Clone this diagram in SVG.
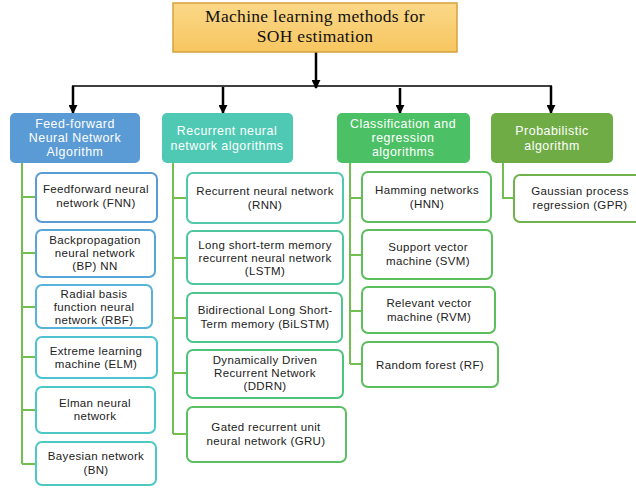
<svg xmlns="http://www.w3.org/2000/svg" width="636" height="488" viewBox="0 0 636 488">
<defs>
<linearGradient id="gOr" x1="0" y1="0" x2="0" y2="1">
<stop offset="0" stop-color="#FBD888"/>
<stop offset="1" stop-color="#F7C660"/>
</linearGradient>
<marker id="ah" viewBox="0 0 10 10" refX="9" refY="5" markerWidth="3.6" markerHeight="3.6" orient="auto" markerUnits="strokeWidth">
<path d="M0,0 L10,5 L0,10 z" fill="#000"/>
</marker>
</defs>
<style>
.title{font-family:"Liberation Serif","Times New Roman",serif;font-size:17.5px;letter-spacing:0.3px;fill:#111;text-anchor:middle}
.cat{font-family:"Liberation Sans",Arial,sans-serif;font-size:12.4px;letter-spacing:0.5px;fill:#fff;text-anchor:middle}
.item{font-family:"Liberation Sans",Arial,sans-serif;font-size:11.5px;letter-spacing:0.35px;fill:#222;text-anchor:middle}
.box{fill:#fff;stroke-width:2}
.arr{stroke:#000;stroke-width:2.5;fill:none}
.tree{stroke:#72BE4E;stroke-width:2;fill:none}
</style>
<g id="connectors">
<line class="arr" x1="316" y1="52" x2="316" y2="88" marker-end="url(#ah)"/>
<line x1="72" y1="86" x2="552" y2="86" stroke="#000" stroke-width="1.6"/>
<line class="arr" x1="73" y1="86" x2="73" y2="113" marker-end="url(#ah)"/>
<line class="arr" x1="223" y1="87" x2="223" y2="113" marker-end="url(#ah)"/>
<line class="arr" x1="400" y1="88" x2="400" y2="113" marker-end="url(#ah)"/>
<path class="arr" d="M551 86 V113" marker-end="url(#ah)"/>
<path class="tree" d="M22 163 V464 M22 197 H36 M22 253 H36 M22 307 H36 M22 357 H36 M22 410 H36 M22 464 H36"/>
<path class="tree" d="M173 163 V434 M173 198 H187 M173 258 H187 M173 318 H187 M173 373 H187 M173 434 H187"/>
<path class="tree" d="M350 163 V364 M350 198 H362 M350 255 H362 M350 311 H362 M350 364 H362"/>
<path class="tree" d="M503 163 V198 H514"/>
</g>
<g id="root">
<rect x="173" y="3" width="284" height="49" fill="url(#gOr)" stroke="#D9A13E" stroke-width="1.5"/>
<text class="title" x="315" y="22">Machine learning methods for</text>
<text class="title" x="315" y="42">SOH estimation</text>
</g>
<g id="cat-ffnn">
<rect x="10" y="113" width="130" height="50" rx="5" fill="#5B9BD5"/>
<text class="cat" x="75" y="128">Feed-forward</text>
<text class="cat" x="75" y="142">Neural Network</text>
<text class="cat" x="75" y="156">Algorithm</text>
</g>
<g id="cat-rnn">
<rect x="162" y="113" width="131" height="50" rx="5" fill="#4FC9B4"/>
<text class="cat" x="227" y="135">Recurrent neural</text>
<text class="cat" x="227" y="150">network algorithms</text>
</g>
<g id="cat-cls">
<rect x="337" y="113" width="133" height="50" rx="5" fill="#4CC065"/>
<text class="cat" x="403" y="128">Classification and</text>
<text class="cat" x="403" y="142">regression</text>
<text class="cat" x="403" y="156">algorithms</text>
</g>
<g id="cat-prob">
<rect x="491" y="113" width="122" height="50" rx="5" fill="#6FAC46"/>
<text class="cat" x="552" y="135">Probabilistic</text>
<text class="cat" x="552" y="150">algorithm</text>
</g>
<g id="fnn">
<rect class="box" x="36" y="173" width="121" height="49" rx="6" stroke="#5B9BD5"/>
<text class="item" x="96" y="193">Feedforward neural</text>
<text class="item" x="96" y="207">network (FNN)</text>
</g>
<g id="bp">
<rect class="box" x="36" y="230" width="119" height="47" rx="6" stroke="#58A6D7"/>
<text class="item" x="95" y="244">Backpropagation</text>
<text class="item" x="95" y="257">neural network</text>
<text class="item" x="95" y="270">(BP) NN</text>
</g>
<g id="rbf">
<rect class="box" x="36" y="285" width="116" height="43" rx="6" stroke="#55B4D8"/>
<text class="item" x="94" y="298">Radial basis</text>
<text class="item" x="94" y="311">function neural</text>
<text class="item" x="94" y="324">network (RBF)</text>
</g>
<g id="elm">
<rect class="box" x="36" y="337" width="121" height="41" rx="6" stroke="#4EC2D2"/>
<text class="item" x="96" y="355">Extreme learning</text>
<text class="item" x="96" y="368">machine (ELM)</text>
</g>
<g id="elman">
<rect class="box" x="36" y="387" width="119" height="46" rx="6" stroke="#4DC8CA"/>
<text class="item" x="95" y="407">Elman neural</text>
<text class="item" x="95" y="420">network</text>
</g>
<g id="bn">
<rect class="box" x="36" y="442" width="120" height="43" rx="6" stroke="#4DC8C3"/>
<text class="item" x="96" y="460">Bayesian network</text>
<text class="item" x="96" y="474">(BN)</text>
</g>
<g id="rnn">
<rect class="box" x="187" y="173" width="156" height="50" rx="6" stroke="#50C9AB"/>
<text class="item" x="265" y="195">Recurrent neural network</text>
<text class="item" x="265" y="209">(RNN)</text>
</g>
<g id="lstm">
<rect class="box" x="187" y="231" width="156" height="53" rx="6" stroke="#4FC79C"/>
<text class="item" x="265" y="249">Long short-term memory</text>
<text class="item" x="265" y="262">recurrent neural network</text>
<text class="item" x="265" y="275">(LSTM)</text>
</g>
<g id="bilstm">
<rect class="box" x="187" y="293" width="155" height="49" rx="6" stroke="#4EC58C"/>
<text class="item" x="265" y="314">Bidirectional Long Short-</text>
<text class="item" x="265" y="328">Term memory (BiLSTM)</text>
</g>
<g id="ddrn">
<rect class="box" x="187" y="350" width="156" height="48" rx="6" stroke="#4EC37C"/>
<text class="item" x="265" y="364">Dynamically Driven</text>
<text class="item" x="265" y="377">Recurrent Network</text>
<text class="item" x="265" y="390">(DDRN)</text>
</g>
<g id="gru">
<rect class="box" x="187" y="407" width="159" height="55" rx="6" stroke="#5CBF62"/>
<text class="item" x="266" y="431">Gated recurrent unit</text>
<text class="item" x="266" y="445">neural network (GRU)</text>
</g>
<g id="hnn">
<rect class="box" x="362" y="172" width="129" height="50" rx="6" stroke="#5DBF5C"/>
<text class="item" x="427" y="194">Hamming networks</text>
<text class="item" x="427" y="208">(HNN)</text>
</g>
<g id="svm">
<rect class="box" x="362" y="230" width="130" height="49" rx="6" stroke="#5DBF5C"/>
<text class="item" x="428" y="251">Support vector</text>
<text class="item" x="428" y="265">machine (SVM)</text>
</g>
<g id="rvm">
<rect class="box" x="362" y="287" width="133" height="46" rx="6" stroke="#5DBF5C"/>
<text class="item" x="429" y="307">Relevant vector</text>
<text class="item" x="429" y="321">machine (RVM)</text>
</g>
<g id="rf">
<rect class="box" x="362" y="342" width="136" height="45" rx="6" stroke="#5DBF5C"/>
<text class="item" x="430" y="369">Random forest (RF)</text>
</g>
<g id="gpr">
<rect class="box" x="514" y="175" width="132" height="47" rx="6" stroke="#6FB24C"/>
<text class="item" x="580" y="195">Gaussian process</text>
<text class="item" x="580" y="209">regression (GPR)</text>
</g>
</svg>
